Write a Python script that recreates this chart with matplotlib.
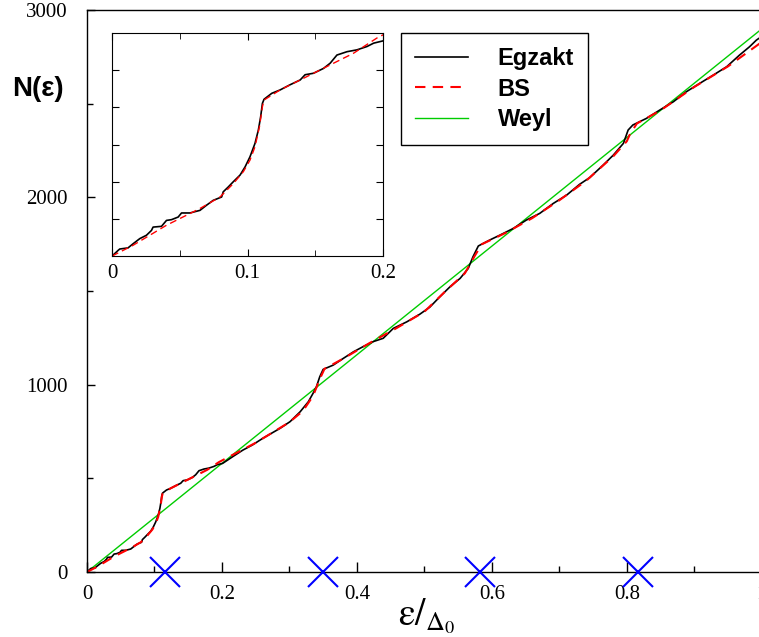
import matplotlib
matplotlib.use('Agg')
from matplotlib import pyplot as plt
from matplotlib.ticker import MultipleLocator

# exact staircase counting function
eps_exact = [0.0, 0.0044, 0.0057, 0.0118, 0.0155, 0.0205, 0.0254, 0.0291, 0.0303, 0.0365,
             0.0402, 0.0439, 0.0488, 0.0513, 0.0575, 0.0649, 0.0698, 0.0747, 0.0809, 0.0821,
             0.0858, 0.0895, 0.0945, 0.0982, 0.1018, 0.1055, 0.108, 0.1097, 0.111, 0.1122,
             0.1179, 0.124, 0.1314, 0.1389, 0.1425, 0.1487, 0.1561, 0.161, 0.166, 0.1734,
             0.1808, 0.1882, 0.1931, 0.201, 0.216, 0.231, 0.245, 0.261, 0.286, 0.301,
             0.316, 0.328, 0.335, 0.340, 0.345, 0.350, 0.365, 0.380, 0.395, 0.409,
             0.424, 0.439, 0.454, 0.474, 0.493, 0.508, 0.523, 0.538, 0.553, 0.565,
             0.572, 0.580, 0.597, 0.612, 0.632, 0.651, 0.671, 0.691, 0.711, 0.730,
             0.745, 0.765, 0.780, 0.795, 0.802, 0.809, 0.829, 0.849, 0.869, 0.888,
             0.908, 0.928, 0.948, 0.967, 0.982, 0.992, 1.0]
n_exact = [0, 15, 19, 22, 33, 47, 56, 69, 78, 80,
           96, 98, 105, 116, 116, 123, 137, 150, 159, 173,
           186, 200, 218, 240, 267, 303, 339, 375, 411, 422,
           438, 447, 461, 474, 488, 492, 505, 519, 541, 550,
           555, 564, 573, 580, 616, 651, 678, 715, 767, 803,
           856, 909, 954, 989, 1043, 1082, 1105, 1141, 1176, 1203,
           1230, 1248, 1301, 1336, 1376, 1414, 1470, 1523, 1568, 1621,
           1683, 1741, 1773, 1799, 1835, 1879, 1915, 1968, 2013, 2070,
           2106, 2173, 2226, 2289, 2360, 2387, 2422, 2467, 2511, 2564,
           2609, 2653, 2698, 2760, 2805, 2840, 2860]

# smooth BS approximation
eps_bs = [0.0, 0.0155, 0.0402, 0.0649, 0.0797, 0.0895, 0.0969, 0.1018, 0.1055, 0.1088,
          0.111, 0.1122, 0.124, 0.1389, 0.1635, 0.1783, 0.1956, 0.25, 0.30, 0.32,
          0.335, 0.345, 0.352, 0.38, 0.42, 0.46, 0.50, 0.53, 0.56, 0.575,
          0.585, 0.62, 0.66, 0.70, 0.74, 0.78, 0.80, 0.805, 0.815, 0.85,
          0.90, 0.95, 1.0]
n_bs = [0, 29, 83, 128, 159, 195, 227, 258, 294, 348,
        402, 420, 447, 474, 519, 546, 587, 690, 800, 860,
        940, 1030, 1085, 1140, 1225, 1305, 1390, 1495, 1595, 1690,
        1750, 1810, 1890, 1985, 2090, 2220, 2300, 2340, 2395, 2465,
        2590, 2700, 2830]

# Weyl term
eps_weyl = [0.0, 1.0]
n_weyl = [0, 2900]

# crosses on the axis
eps_cross = [0.115, 0.35, 0.583, 0.816]
n_cross = [0, 0, 0, 0]

plt.rcParams['font.family'] = 'Liberation Serif'
plt.rcParams['mathtext.fontset'] = 'stix'

fig = plt.figure(figsize=(7.59, 6.37), dpi=100)
ax = fig.add_axes([0.1146, 0.102, 0.889, 0.882])

l_w, = ax.plot(eps_weyl, n_weyl, color='#00cc00', lw=1.0, label='Weyl')
l_e, = ax.plot(eps_exact, n_exact, color='black', lw=1.2, label='Egzakt')
l_b, = ax.plot(eps_bs, n_bs, color='red', lw=1.5, dashes=(5, 3.5), label='BS')
ax.plot(eps_cross, n_cross, 'x', color='blue', ms=22, mew=1.5, clip_on=False, zorder=5)

ax.set_xlim(0, 1)
ax.set_ylim(0, 3000)
ax.set_xticks([0, 0.2, 0.4, 0.6, 0.8, 1.0])
ax.set_xticklabels(['0', '0.2', '0.4', '0.6', '0.8', '1'])
ax.set_yticks([0, 1000, 2000, 3000])
ax.xaxis.set_minor_locator(MultipleLocator(0.1))
ax.yaxis.set_minor_locator(MultipleLocator(500))
ax.tick_params(which='both', direction='in', labelsize=15, width=1)
ax.tick_params(axis='x', which='major', length=7, pad=9)
ax.tick_params(axis='y', which='major', length=6, pad=14)
ax.tick_params(which='minor', length=4)
for s in ax.spines.values():
    s.set_linewidth(1.0)

fig.text(0.016, 0.85, 'N(\u03b5)', family='Liberation Sans', weight='bold', fontsize=20)
fig.text(0.525, 0.018, r'$\mathrm{\varepsilon}/_{\mathrm{\Delta}_0}$', fontsize=27)

leg = ax.legend([l_e, l_b, l_w], ['Egzakt', 'BS', 'Weyl'], loc='upper left',
                bbox_to_anchor=(0.5283, 0.9482), bbox_transform=fig.transFigure,
                borderaxespad=0, fancybox=False, edgecolor='black', framealpha=1,
                handlelength=2.25, handletextpad=1.25, borderpad=0.6, labelspacing=0.32,
                prop={'family': 'Liberation Sans', 'weight': 'bold', 'size': 17})
leg.get_frame().set_linewidth(1.0)

# inset: zoom on the first resonance
axi = fig.add_axes([0.1476, 0.598, 0.357, 0.350])
axi.plot(eps_exact, n_exact, color='black', lw=1.2)
axi.plot(eps_bs, n_bs, color='red', lw=1.0, dashes=(5, 3))
axi.set_xlim(0, 0.2)
axi.set_ylim(0, 600)
axi.set_xticks([0, 0.1, 0.2])
axi.set_xticklabels(['0', '0.1', '0.2'])
axi.xaxis.set_minor_locator(MultipleLocator(0.05))
axi.set_yticks([100, 200, 300, 400, 500])
axi.set_yticklabels([])
axi.tick_params(which='both', direction='in', top=True, right=True, labelsize=15)
axi.tick_params(which='major', length=5, pad=6)
axi.tick_params(which='minor', length=4)

fig.savefig('out.png', dpi=100)
